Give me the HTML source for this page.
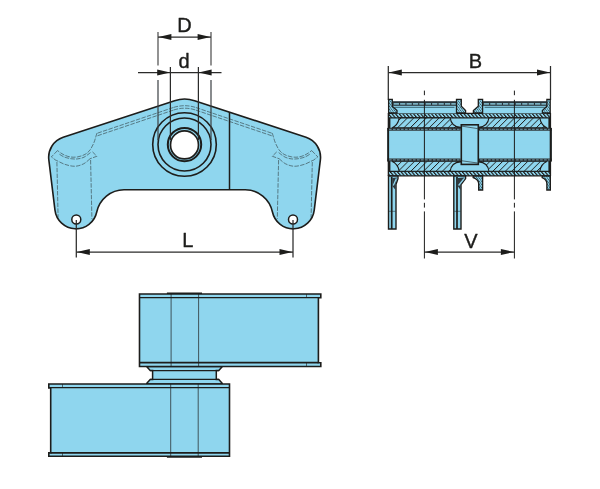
<!DOCTYPE html>
<html lang="en">
<head>
<meta charset="utf-8">
<title>Drawing</title>
<style>
html,body{margin:0;padding:0;background:#fff;}
body{width:600px;height:489px;overflow:hidden;font-family:"Liberation Sans",sans-serif;}
svg{display:block;}
text{font-family:"Liberation Sans",sans-serif;}
</style>
</head>
<body>
<svg width="600" height="489" viewBox="0 0 600 489" style="will-change:transform">
<rect width="600" height="489" fill="#fff"/>
<path d="M174.60,100.68 L63.19,137.22 A21.1 21.1 0 0 0 48.83,159.84 L54.96,210.2 A21.2 21.2 0 0 0 96.75,212.0 A28 28 0 0 1 124.0,189.7 L245.2,189.7 A28 28 0 0 1 272.45,212.0 A21.2 21.2 0 0 0 314.24,210.2 L320.37,159.84 A21.1 21.1 0 0 0 306.01,137.22 L194.60,100.68 Q184.6,97.4 174.60,100.68 Z" fill="#8fd6ee" stroke="#1d1d1b" stroke-width="1.6" stroke-linejoin="round"/>
<path d="M97.5,133.15 L173.60,107.42 M97.5,135.75 L173.60,110.02 M271.7,133.15 L195.60,107.42 M271.7,135.75 L195.60,110.02 M173.60,107.42 Q184.6,103.98 195.60,107.42 M173.60,110.02 Q184.6,106.38 195.60,110.02 M96.90,133.10 C96.68,133.83 96.12,135.83 95.60,137.50 C95.07,139.17 94.68,141.02 93.75,143.10 C92.82,145.18 91.46,148.12 90.00,150.00 C88.54,151.88 87.08,153.25 85.00,154.40 C82.92,155.55 80.00,156.48 77.50,156.90 C75.00,157.32 72.40,157.32 70.00,156.90 C67.60,156.48 65.18,155.45 63.10,154.40 C61.02,153.35 58.43,151.23 57.50,150.60 M90.50,152.60 C89.42,153.37 86.17,156.15 84.00,157.20 C81.83,158.25 79.62,158.64 77.50,158.90 C75.38,159.16 73.50,159.08 71.25,158.75 C69.00,158.42 66.08,157.73 64.00,156.90 C61.92,156.07 59.62,154.28 58.75,153.75 M90.00,158.75 C88.96,159.58 86.25,162.50 83.75,163.75 C81.25,165.00 78.12,166.14 75.00,166.25 C71.88,166.36 68.12,165.39 65.00,164.40 C61.88,163.41 57.71,160.98 56.25,160.30 M57.5,150.6 L51.4,156.9 L56.25,160.6 M92.5,151.9 L96.9,156.25 L90,158.75 M56.9,162 L58.1,217.5 M90.6,160 L91.9,218.8 M272.30,133.10 C272.52,133.83 273.08,135.83 273.60,137.50 C274.12,139.17 274.52,141.02 275.45,143.10 C276.38,145.18 277.74,148.12 279.20,150.00 C280.66,151.88 282.12,153.25 284.20,154.40 C286.28,155.55 289.20,156.48 291.70,156.90 C294.20,157.32 296.80,157.32 299.20,156.90 C301.60,156.48 304.02,155.45 306.10,154.40 C308.18,153.35 310.77,151.23 311.70,150.60 M278.70,152.60 C279.78,153.37 283.03,156.15 285.20,157.20 C287.37,158.25 289.57,158.64 291.70,158.90 C293.82,159.16 295.70,159.08 297.95,158.75 C300.20,158.42 303.12,157.73 305.20,156.90 C307.28,156.07 309.57,154.28 310.45,153.75 M279.20,158.75 C280.24,159.58 282.95,162.50 285.45,163.75 C287.95,165.00 291.07,166.14 294.20,166.25 C297.32,166.36 301.07,165.39 304.20,164.40 C307.32,163.41 311.49,160.98 312.95,160.30 M311.7,150.6 L317.8,156.9 L312.95,160.6 M276.7,151.9 L272.3,156.25 L279.2,158.75 M312.3,162 L311.1,217.5 M278.6,160 L277.3,218.8" fill="none" stroke="#1d1d1b" stroke-width="0.5" stroke-dasharray="4.5 1.3"/>
<line x1="229.5" y1="112" x2="229.5" y2="189.5" stroke="#1d1d1b" stroke-width="1.5"/>
<circle cx="184.5" cy="144.5" r="31.8" fill="none" stroke="#1d1d1b" stroke-width="1.6"/>
<circle cx="184.5" cy="144.5" r="26.5" fill="none" stroke="#1d1d1b" stroke-width="1.6"/>
<circle cx="184.5" cy="144.6" r="16.7" fill="none" stroke="#1d1d1b" stroke-width="2.0"/>
<circle cx="184.5" cy="144.9" r="14.0" fill="#fff" stroke="#1d1d1b" stroke-width="1.7"/>
<circle cx="76.3" cy="219.5" r="4.5" fill="#fff" stroke="#1d1d1b" stroke-width="1.5"/>
<circle cx="293.0" cy="219.5" r="4.5" fill="#fff" stroke="#1d1d1b" stroke-width="1.5"/>
<line x1="158" y1="32" x2="158" y2="65.5" stroke="#4a4a4a" stroke-width="1.2" />
<line x1="158" y1="80" x2="158" y2="140" stroke="#3a3f42" stroke-width="1.2" />
<line x1="211" y1="32" x2="211" y2="65.5" stroke="#4a4a4a" stroke-width="1.2" />
<line x1="211" y1="80" x2="211" y2="140" stroke="#3a3f42" stroke-width="1.2" />
<line x1="158" y1="37" x2="211" y2="37" stroke="#2b2b2a" stroke-width="1.25" />
<path d="M158.4,37 L171.4,34.0 L171.4,40.0 Z" fill="#1d1d1b"/>
<path d="M210.6,37 L197.6,34.0 L197.6,40.0 Z" fill="#1d1d1b"/>
<line x1="170.4" y1="67" x2="170.4" y2="140" stroke="#2b2b2a" stroke-width="1.25" />
<line x1="198.4" y1="67" x2="198.4" y2="140" stroke="#2b2b2a" stroke-width="1.25" />
<line x1="138" y1="72.5" x2="221.5" y2="72.5" stroke="#2b2b2a" stroke-width="1.25" />
<path d="M170.2,72.5 L157.2,69.5 L157.2,75.5 Z" fill="#1d1d1b"/>
<path d="M198.6,72.5 L211.6,69.5 L211.6,75.5 Z" fill="#1d1d1b"/>
<line x1="76.3" y1="220" x2="76.3" y2="257.5" stroke="#2b2b2a" stroke-width="1.25" />
<line x1="293" y1="220" x2="293" y2="257.5" stroke="#2b2b2a" stroke-width="1.25" />
<line x1="76.3" y1="252" x2="293" y2="252" stroke="#2b2b2a" stroke-width="1.25" />
<path d="M76.8,252 L89.8,249.0 L89.8,255.0 Z" fill="#1d1d1b"/>
<path d="M292.5,252 L279.5,249.0 L279.5,255.0 Z" fill="#1d1d1b"/>
<line x1="388.3" y1="66" x2="388.3" y2="100" stroke="#2b2b2a" stroke-width="1.25" />
<line x1="550.5" y1="66" x2="550.5" y2="100" stroke="#2b2b2a" stroke-width="1.25" />
<line x1="388.3" y1="72.5" x2="550.5" y2="72.5" stroke="#2b2b2a" stroke-width="1.25" />
<path d="M388.8,72.5 L401.8,69.5 L401.8,75.5 Z" fill="#1d1d1b"/>
<path d="M550,72.5 L537,69.5 L537,75.5 Z" fill="#1d1d1b"/>
<line x1="424.4" y1="252" x2="514.4" y2="252" stroke="#2b2b2a" stroke-width="1.25" />
<path d="M424.9,252 L437.9,249.0 L437.9,255.0 Z" fill="#1d1d1b"/>
<path d="M513.9,252 L500.9,249.0 L500.9,255.0 Z" fill="#1d1d1b"/>
<text x="184.6" y="31.8" font-size="20" text-anchor="middle" fill="#1d1d1b" stroke="#1d1d1b" stroke-width="0.4" stroke-linejoin="round">D</text>
<text x="184" y="67.6" font-size="20" text-anchor="middle" fill="#1d1d1b" stroke="#1d1d1b" stroke-width="0.4" stroke-linejoin="round">d</text>
<text x="187.7" y="246.8" font-size="20" text-anchor="middle" fill="#1d1d1b" stroke="#1d1d1b" stroke-width="0.4" stroke-linejoin="round">L</text>
<text x="475.4" y="67.8" font-size="20" text-anchor="middle" fill="#1d1d1b" stroke="#1d1d1b" stroke-width="0.4" stroke-linejoin="round">B</text>
<text x="471" y="247.8" font-size="20" text-anchor="middle" fill="#1d1d1b" stroke="#1d1d1b" stroke-width="0.4" stroke-linejoin="round">V</text>
<defs><pattern id="hb" width="3.6" height="8" patternUnits="userSpaceOnUse" patternTransform="translate(0.5 0) skewX(40)"><rect width="3.6" height="8" fill="#8fd6ee"/><rect x="0" y="0" width="1.5" height="8" fill="#1d1d1b"/></pattern><pattern id="hf" width="6.3" height="8" patternUnits="userSpaceOnUse" patternTransform="translate(2 0) skewX(-45)"><rect width="6.3" height="8" fill="#8fd6ee"/><rect x="0" y="0" width="1.0" height="8" fill="#1d1d1b"/></pattern><pattern id="hs" width="2.2" height="8" patternUnits="userSpaceOnUse" patternTransform="skewX(35)"><rect width="2.2" height="8" fill="#8fd6ee"/><rect x="0" y="0" width="0.8" height="8" fill="#3d5f6b"/></pattern></defs>
<rect x="387.5" y="130" width="164.1" height="29.2" fill="#8fd6ee"/>
<rect x="388.4" y="113.4" width="162.0" height="31.4" fill="#8fd6ee"/>
<rect x="388.4" y="113.4" width="162.0" height="4.5" fill="url(#hb)"/>
<line x1="388.0" y1="113.4" x2="550.8" y2="113.4" stroke="#1d1d1b" stroke-width="1.3" />
<line x1="388.0" y1="117.9" x2="550.8" y2="117.9" stroke="#1d1d1b" stroke-width="1.3" />
<path d="M399.2,117.9 L450.2,117.9 Q451.2,126.7 460.5,127.30000000000001 L460.5,127.9 L391.79999999999995,127.9 Q398.0,125.4 399.2,117.9 Z" fill="url(#hf)" stroke="#1d1d1b" stroke-width="1.1"/>
<path d="M488.90000000000003,117.9 L539.8000000000001,117.9 Q541.0000000000001,125.4 547.2,127.9 L478.6,127.9 L478.6,127.30000000000001 Q487.90000000000003,126.7 488.90000000000003,117.9 Z" fill="url(#hf)" stroke="#1d1d1b" stroke-width="1.1"/>
<rect x="388.09999999999997" y="117.9" width="2.3" height="10.3" fill="#1d1d1b"/>
<rect x="548.4" y="117.9" width="2.3" height="10.3" fill="#1d1d1b"/>
<rect x="387.5" y="127.8" width="73.0" height="2.9" fill="#2a2e30"/>
<line x1="389.0" y1="129.3" x2="459.5" y2="129.3" stroke="#7fb9cc" stroke-width="0.8" stroke-dasharray="2.6 1.4"/>
<rect x="478.6" y="127.8" width="73.0" height="2.9" fill="#2a2e30"/>
<line x1="480.1" y1="129.3" x2="550.6" y2="129.3" stroke="#7fb9cc" stroke-width="0.8" stroke-dasharray="2.6 1.4"/>
<rect x="388.4" y="144.4" width="162.0" height="31.4" fill="#8fd6ee"/>
<rect x="388.4" y="171.3" width="162.0" height="4.5" fill="url(#hb)"/>
<line x1="388.0" y1="175.8" x2="550.8" y2="175.8" stroke="#1d1d1b" stroke-width="1.3" />
<line x1="388.0" y1="171.3" x2="550.8" y2="171.3" stroke="#1d1d1b" stroke-width="1.3" />
<path d="M399.2,171.3 L450.2,171.3 Q451.2,162.5 460.5,161.9 L460.5,161.3 L391.79999999999995,161.3 Q398.0,163.8 399.2,171.3 Z" fill="url(#hf)" stroke="#1d1d1b" stroke-width="1.1"/>
<path d="M488.90000000000003,171.3 L539.8000000000001,171.3 Q541.0000000000001,163.8 547.2,161.3 L478.6,161.3 L478.6,161.9 Q487.90000000000003,162.5 488.90000000000003,171.3 Z" fill="url(#hf)" stroke="#1d1d1b" stroke-width="1.1"/>
<rect x="388.09999999999997" y="161.0" width="2.3" height="10.3" fill="#1d1d1b"/>
<rect x="548.4" y="161.0" width="2.3" height="10.3" fill="#1d1d1b"/>
<rect x="387.5" y="158.5" width="73.0" height="2.9" fill="#2a2e30"/>
<line x1="389.0" y1="159.9" x2="459.5" y2="159.9" stroke="#7fb9cc" stroke-width="0.8" stroke-dasharray="2.6 1.4"/>
<rect x="478.6" y="158.5" width="73.0" height="2.9" fill="#2a2e30"/>
<line x1="480.1" y1="159.9" x2="550.6" y2="159.9" stroke="#7fb9cc" stroke-width="0.8" stroke-dasharray="2.6 1.4"/>
<line x1="388.0" y1="128" x2="388.0" y2="161.4" stroke="#1d1d1b" stroke-width="1.5" />
<line x1="551.1" y1="128" x2="551.1" y2="161.4" stroke="#1d1d1b" stroke-width="1.5" />
<line x1="388.4" y1="113" x2="388.4" y2="176" stroke="#1d1d1b" stroke-width="1.4" />
<line x1="550.4" y1="113" x2="550.4" y2="176" stroke="#1d1d1b" stroke-width="1.4" />
<rect x="461.3" y="124.8" width="17.0" height="39.6" fill="#8fd6ee" stroke="#1d1d1b" stroke-width="1.6"/>
<line x1="462" y1="160.8" x2="477.6" y2="163.0" stroke="#1d1d1b" stroke-width="0.6" />
<line x1="462" y1="126.2" x2="477.6" y2="128.6" stroke="#1d1d1b" stroke-width="0.6" />
<rect x="392.5" y="102.1" width="64.0" height="11.3" fill="#8fd6ee"/>
<rect x="392.5" y="101.2" width="64.0" height="4.6" fill="#27343a"/>
<line x1="393.7" y1="103.9" x2="455.9" y2="103.9" stroke="#79aebf" stroke-width="1.9" stroke-dasharray="5.3 1.1"/>
<line x1="394.5" y1="107.3" x2="454.5" y2="107.3" stroke="#2f5361" stroke-width="0.9" />
<rect x="482.6" y="102.1" width="64.19999999999993" height="11.3" fill="#8fd6ee"/>
<rect x="482.6" y="101.2" width="64.19999999999993" height="4.6" fill="#27343a"/>
<line x1="483.8" y1="103.9" x2="546.1999999999999" y2="103.9" stroke="#79aebf" stroke-width="1.9" stroke-dasharray="5.3 1.1"/>
<line x1="484.6" y1="107.3" x2="544.8" y2="107.3" stroke="#2f5361" stroke-width="0.9" />
<path d="M388.6,113.0 L388.6,99.4 L392.3,99.4 L392.3,106.2 L397.0,110.6 L397.0,113.0 Z" fill="url(#hs)" stroke="#1d1d1b" stroke-width="1.3" stroke-linejoin="miter"/>
<path d="M550.2,113.0 L550.2,99.4 L546.9,99.4 L546.9,106.2 L542.4,110.6 L542.4,113.0 Z" fill="url(#hs)" stroke="#1d1d1b" stroke-width="1.3" stroke-linejoin="miter"/>
<path d="M456.5,113.0 L456.5,99.4 L461.3,99.4 L461.3,106.2 L465.6,110.6 L465.6,113.0 Z" fill="url(#hs)" stroke="#1d1d1b" stroke-width="1.3" stroke-linejoin="miter"/>
<path d="M482.6,113.0 L482.6,99.4 L478.3,99.4 L478.3,106.2 L473.4,110.6 L473.4,113.0 Z" fill="url(#hs)" stroke="#1d1d1b" stroke-width="1.3" stroke-linejoin="miter"/>
<path d="M482.6,176.0 L482.6,190 L478.7,190 L478.7,183.6 Q478.7,179.5 473.2,177.6 L473.2,176.0 Z" fill="url(#hs)" stroke="#1d1d1b" stroke-width="1.4"/>
<path d="M550.3,176.0 L550.3,190 L546.9,190 L546.9,183.6 Q546.9,179.5 542.2,177.6 L542.2,176.0 Z" fill="url(#hs)" stroke="#1d1d1b" stroke-width="1.4"/>
<path d="M388.5,176 L388.5,229 L396.0,229 L396.0,184.5 L398.0,178.6 L398.0,176 Z" fill="#8fd6ee" stroke="#1d1d1b" stroke-width="1.4"/>
<path d="M391.7,177 L391.7,229" stroke="#1d1d1b" stroke-width="1.7" fill="none"/>
<path d="M392.3,186 L392.3,178 L397.0,177.4 L395.6,184.5 L395.6,190 Z" fill="#2f3a3f"/>
<path d="M393.3,185.5 L396.4,178.6" stroke="#8fd6ee" stroke-width="1.3" fill="none"/>
<line x1="389.0" y1="211.3" x2="395.5" y2="211.3" stroke="#1d1d1b" stroke-width="0.5" />
<path d="M453.8,176 L453.8,229 L461.0,229 L461.0,184.5 L465.6,178.6 L465.6,176 Z" fill="#8fd6ee" stroke="#1d1d1b" stroke-width="1.4"/>
<path d="M457.0,177 L457.0,229" stroke="#1d1d1b" stroke-width="1.7" fill="none"/>
<path d="M457.6,186 L457.6,178 L464.6,177.4 L460.6,184.5 L460.6,190 Z" fill="#2f3a3f"/>
<path d="M458.6,185.5 L464.0,178.6" stroke="#8fd6ee" stroke-width="1.3" fill="none"/>
<line x1="454.3" y1="211.3" x2="460.5" y2="211.3" stroke="#1d1d1b" stroke-width="0.5" />
<path d="M146.6,366.5 L222.4,366.5 L218.8,370.6 L216.3,370.6 L216.3,379.4 L218.8,379.4 L222.2,383.2 L222.2,384 L146.8,384 L146.8,383.2 L150.2,379.4 L152.6,379.4 L152.6,370.6 L150.2,370.6 Z" fill="#8fd6ee" stroke="#1d1d1b" stroke-width="1.5" stroke-linejoin="miter" />
<line x1="150.2" y1="370.6" x2="218.8" y2="370.6" stroke="#1d1d1b" stroke-width="1.4" />
<line x1="150.2" y1="379.4" x2="218.8" y2="379.4" stroke="#1d1d1b" stroke-width="1.4" />
<path d="M139.5,294 L320.8,294 L320.8,297.7 L318.4,297.7 L318.4,362.7 L320.8,362.7 L320.8,366.5 L139.5,366.5 Z" fill="#8fd6ee" stroke="#1d1d1b" stroke-width="1.6" stroke-linejoin="miter" />
<line x1="139.5" y1="297.6" x2="318.4" y2="297.6" stroke="#1d1d1b" stroke-width="1.3" />
<line x1="139.5" y1="362.7" x2="318.4" y2="362.7" stroke="#1d1d1b" stroke-width="1.7" />
<line x1="166.9" y1="293.3" x2="202" y2="293.3" stroke="#1d1d1b" stroke-width="1.5" />
<line x1="171.1" y1="294" x2="171.1" y2="366" stroke="#1d1d1b" stroke-width="0.7" />
<line x1="198.6" y1="294" x2="198.6" y2="366" stroke="#1d1d1b" stroke-width="0.7" />
<line x1="306.5" y1="294" x2="306.5" y2="297.7" stroke="#1d1d1b" stroke-width="0.6" />
<line x1="306.5" y1="362.7" x2="306.5" y2="366.5" stroke="#1d1d1b" stroke-width="0.6" />
<path d="M48.8,384 L229.5,384 L229.5,456.3 L48.8,456.3 L48.8,452.9 L50.7,452.9 L50.7,387.9 L48.8,387.9 Z" fill="#8fd6ee" stroke="#1d1d1b" stroke-width="1.6" stroke-linejoin="miter" />
<line x1="50.7" y1="387.7" x2="229.5" y2="387.7" stroke="#1d1d1b" stroke-width="1.3" />
<line x1="50.7" y1="452.9" x2="229.5" y2="452.9" stroke="#1d1d1b" stroke-width="1.7" />
<line x1="166.9" y1="457.0" x2="202" y2="457.0" stroke="#1d1d1b" stroke-width="1.5" />
<line x1="170.7" y1="384" x2="170.7" y2="456" stroke="#1d1d1b" stroke-width="0.7" />
<line x1="198.2" y1="384" x2="198.2" y2="456" stroke="#1d1d1b" stroke-width="0.7" />
<line x1="62.5" y1="384" x2="62.5" y2="387.9" stroke="#1d1d1b" stroke-width="0.6" />
<line x1="62.5" y1="452.9" x2="62.5" y2="456.3" stroke="#1d1d1b" stroke-width="0.6" />
<line x1="424.4" y1="90.6" x2="424.4" y2="95.2" stroke="#1d1d1b" stroke-width="1.0" />
<line x1="424.4" y1="99.8" x2="424.4" y2="199.4" stroke="#1d1d1b" stroke-width="1.0" />
<line x1="424.4" y1="202.8" x2="424.4" y2="207.6" stroke="#1d1d1b" stroke-width="1.0" />
<line x1="424.4" y1="211.4" x2="424.4" y2="258.5" stroke="#1d1d1b" stroke-width="1.0" />
<line x1="514.4" y1="90.6" x2="514.4" y2="95.2" stroke="#1d1d1b" stroke-width="1.0" />
<line x1="514.4" y1="99.8" x2="514.4" y2="199.4" stroke="#1d1d1b" stroke-width="1.0" />
<line x1="514.4" y1="202.8" x2="514.4" y2="207.6" stroke="#1d1d1b" stroke-width="1.0" />
<line x1="514.4" y1="211.4" x2="514.4" y2="258.5" stroke="#1d1d1b" stroke-width="1.0" />
</svg>
</body>
</html>
